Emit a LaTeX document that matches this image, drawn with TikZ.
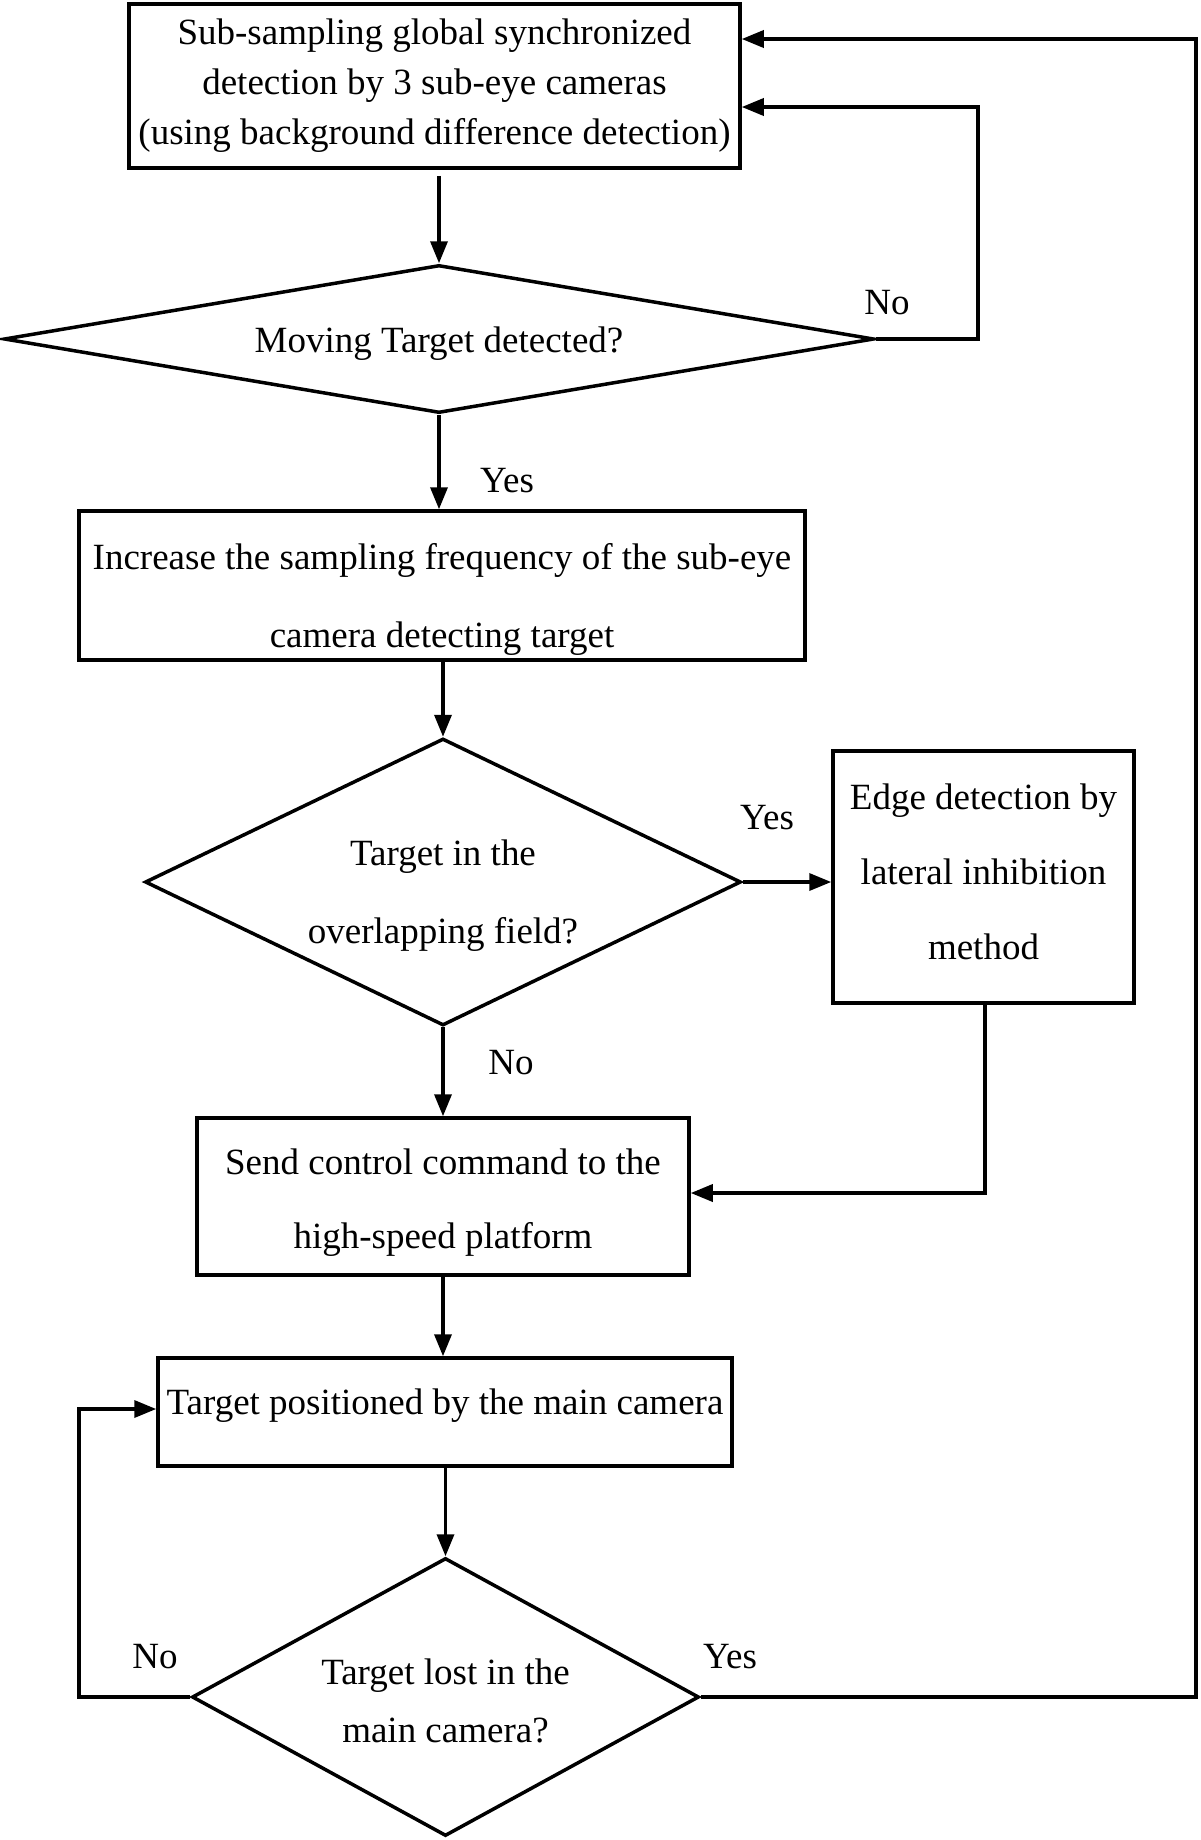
\documentclass[tikz,border=0pt]{standalone}
\usepackage{fontspec}
\setmainfont{Liberation Serif}
\usetikzlibrary{shapes.geometric,arrows.meta}
\begin{document}
\begin{tikzpicture}[x=1pt,y=-1pt,
  box/.style={draw,line width=3.5pt,rectangle,inner sep=0pt},
  dia/.style={draw,line width=3.5pt,diamond,inner sep=0pt},
  txt/.style={inner sep=0pt,align=center},
  arr/.style={line width=3.5pt,-{Triangle[length=22pt,width=17pt]}},
  lbl/.style={inner sep=0pt,font=\fontsize{37}{40}\selectfont}]
\fill[white] (0,0) rectangle (1200,1840);
\useasboundingbox (0,0) rectangle (1200,1840);

% shapes
\node[box,minimum width=611pt,minimum height=164pt] (b1) at (434.5,86) {};
\node[dia,minimum width=870pt,minimum height=148pt,shape aspect=5.88] (d1) at (439,339) {};
\node[box,minimum width=726pt,minimum height=149pt] (b2) at (442,585.5) {};
\node[dia,minimum width=596pt,minimum height=287pt,shape aspect=2.08] (d2) at (443,882) {};
\node[box,minimum width=301pt,minimum height=252pt] (b3) at (983.5,877) {};
\node[box,minimum width=492pt,minimum height=157pt] (b4) at (443,1196.5) {};
\node[box,minimum width=574pt,minimum height=108pt] (b5) at (445,1412) {};
\node[dia,minimum width=507pt,minimum height=278pt,shape aspect=1.82] (d3) at (445.5,1697) {};

% texts
\node[txt,font=\fontsize{37}{50}\selectfont] (t1) at (b1.center)
  {Sub-sampling global synchronized\\detection by 3 sub-eye cameras\\(using background difference detection)};
\node[txt,font=\fontsize{37}{40}\selectfont] (t2) at ([yshift=-5pt]d1.center) {Moving Target detected?};
\node[txt,font=\fontsize{37}{78}\selectfont] (t3) at ([yshift=-13.5pt]b2.center)
  {Increase the sampling frequency of the sub-eye\\camera detecting target};
\node[txt,font=\fontsize{37}{78}\selectfont] (t4) at ([yshift=-13.5pt]d2.center)
  {Target in the\\overlapping field?};
\node[txt,font=\fontsize{37}{75}\selectfont] (t5) at ([yshift=5pt]b3.center)
  {Edge detection by\\lateral inhibition\\method};
\node[txt,font=\fontsize{37}{74}\selectfont] (t6) at ([yshift=-6pt]b4.center)
  {Send control command to the\\high-speed platform};
\node[txt,font=\fontsize{37}{40}\selectfont] (t7) at ([yshift=6pt]b5.center)
  {Target positioned by the main camera};
\node[txt,font=\fontsize{37}{58}\selectfont] (t8) at ([yshift=-4pt]d3.center)
  {Target lost in the\\main camera?};

\coordinate (c1) at (978,107);
\coordinate (c2) at (1196,39);
\coordinate (c3) at (985,1193);
\coordinate (c4) at (79,1409);

% connectors
\draw[arr] ([yshift=-6pt]d1.north |- b1.south) -- (d1.north);
\draw[arr] (d1.south) -- (d1.south |- b2.north);
\draw[arr] (d1.east) -| (c1) -- (c1 -| b1.east);
\draw[arr] (d2.north |- b2.south) -- (d2.north);
\draw[arr] (d2.east) -- (d2.east -| b3.west);
\draw[arr] (d2.south) -- (d2.south |- b4.north);
\draw[arr] (b3.south -| c3) -- (c3) -- (c3 -| b4.east);
\draw[arr] (b4.south -| d2.south) -- (b5.north -| d2.south);
\draw[arr] (b5.south -| d3.north) -- (d3.north);
\draw[arr] (d3.east) -| (c2) -- (c2 -| b1.east);
\draw[arr] (d3.west) -| (c4) -- (c4 -| b5.west);

% labels
\node[lbl] (l1) at (887,303) {No};
\node[lbl] (l2) at (507,481) {Yes};
\node[lbl] (l3) at (767,818) {Yes};
\node[lbl] (l4) at (511,1063) {No};
\node[lbl] (l5) at (155,1657) {No};
\node[lbl] (l6) at (730,1657) {Yes};
\end{tikzpicture}
\end{document}
